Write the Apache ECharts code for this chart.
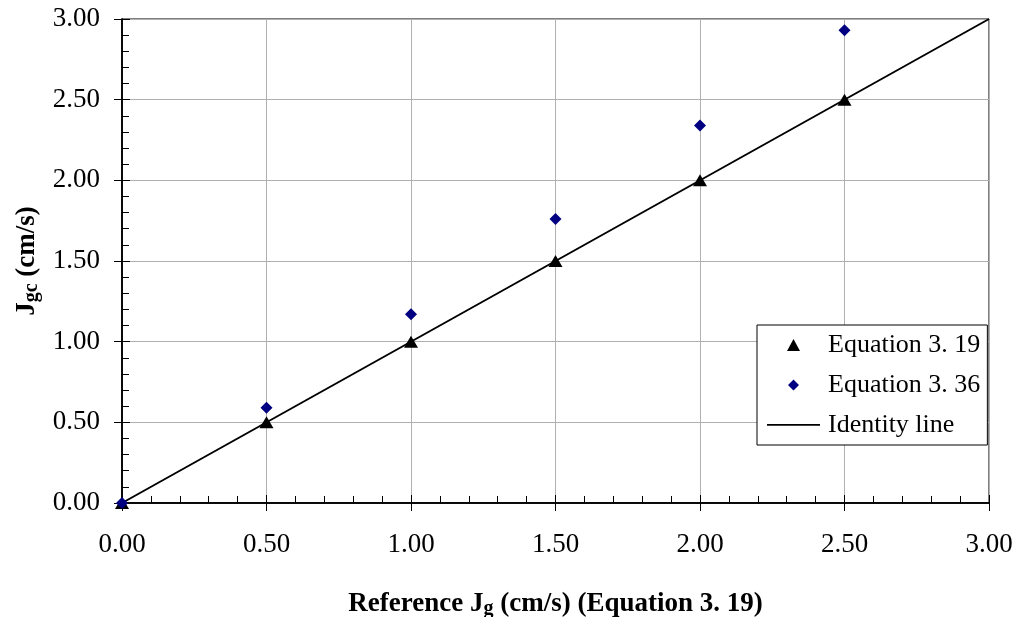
<!DOCTYPE html>
<html>
<head>
<meta charset="utf-8">
<script src="https://cdn.jsdelivr.net/npm/echarts@6/dist/echarts.min.js"></script>
<style>
html,body{margin:0;padding:0;background:#fff;}
#c{width:1021px;height:617px;}
</style>
</head>
<body>
<div id="c"></div>
<script>
const xValues = [0, 0.5, 1.0, 1.5, 2.0, 2.5];
const eq319 = [0, 0.5, 1.0, 1.5, 2.0, 2.5];
const eq336 = [0, 0.59, 1.17, 1.76, 2.34, 2.93];
const identityX = [0, 3];
const identityY = [0, 3];
const seriesNames = ['Equation 3. 19', 'Equation 3. 36', 'Identity line'];

const FONT = '"Liberation Serif","Times New Roman",serif';
const pairs = (xs, ys) => xs.map((x, i) => [x, ys[i]]);
const fmt = v => v.toFixed(2);

// legend icons drawn in a fixed 53x13 box (corner specks keep the box size)
const BOX = 'M0,0L0.01,0L0,0.01Z M53,13L52.99,13L53,12.99Z ';
const iconTri = 'path://' + BOX + 'M20,12.5L26.5,0.5L33,12.5Z';
const iconDia = 'path://' + BOX + 'M26.5,1L32,6.5L26.5,12L21,6.5Z';
const iconLine = 'path://' + BOX + 'M0,5.6L53,5.6L53,7.2L0,7.2Z';

const chart = echarts.init(document.getElementById('c'));
const axisBase = { type: 'value', min: 0, max: 3, interval: 0.5 };
const richName = {
  a: { fontFamily: FONT, fontSize: 27, fontWeight: 'bold', color: '#000', lineHeight: 30 },
  s: { fontFamily: FONT, fontSize: 20, fontWeight: 'bold', color: '#000', lineHeight: 30, verticalAlign: 'bottom', padding: [3, 0, 0, 0] }
};
chart.setOption({
  animation: false,
  backgroundColor: '#fff',
  grid: { left: 122, right: 32, top: 19, bottom: 114, show: true, borderColor: '#000', borderWidth: 1,
          containLabel: false, outerBoundsMode: 'none' },
  xAxis: [
    Object.assign({}, axisBase, {
      position: 'bottom',
      axisLine: { lineStyle: { color: '#000', width: 1.5 } },
      axisTick: { show: true, inside: false, length: 8, lineStyle: { color: '#000' } },
      axisLabel: { formatter: fmt, fontFamily: FONT, fontSize: 27, color: '#000', margin: 28 },
      splitLine: { show: true, lineStyle: { color: '#b0b0b0', width: 1 } },
      name: '{a|Reference J}{s|g}{a| (cm/s) (Equation 3. 19)}',
      nameLocation: 'middle', nameGap: 86,
      nameTextStyle: { rich: richName }
    }),
    Object.assign({}, axisBase, {
      position: 'bottom',
      axisLine: { show: true, lineStyle: { color: '#000', width: 1.5 } },
      axisTick: { show: true, inside: true, length: 8, lineStyle: { color: '#000' } },
      minorTick: { show: true, splitNumber: 5, length: 7, lineStyle: { color: '#000' } },
      axisLabel: { show: false },
      splitLine: { show: false }
    })
  ],
  yAxis: [
    Object.assign({}, axisBase, {
      position: 'left',
      axisLine: { show: true, lineStyle: { color: '#000', width: 1.5 } },
      axisTick: { show: true, inside: false, length: 8, lineStyle: { color: '#000' } },
      axisLabel: { formatter: fmt, fontFamily: FONT, fontSize: 27, color: '#000', margin: 22 },
      splitLine: { show: true, lineStyle: { color: '#b0b0b0', width: 1 } },
      name: '{a|J}{s|gc}{a| (cm/s)}',
      nameLocation: 'middle', nameGap: 80,
      nameTextStyle: { rich: richName }
    }),
    Object.assign({}, axisBase, {
      position: 'left',
      axisLine: { show: true, lineStyle: { color: '#000', width: 1.5 } },
      axisTick: { show: true, inside: true, length: 8, lineStyle: { color: '#000' } },
      minorTick: { show: true, splitNumber: 5, length: 7, lineStyle: { color: '#000' } },
      axisLabel: { show: false },
      splitLine: { show: false }
    })
  ],
  legend: {
    orient: 'vertical',
    left: 757, top: 325,
    backgroundColor: '#fff',
    borderColor: '#000', borderWidth: 1, borderRadius: 0,
    padding: [5, 7, 5, 10],
    itemWidth: 53, itemHeight: 13, itemGap: 10,
    itemStyle: { borderWidth: 0 },
    textStyle: { fontFamily: FONT, fontSize: 26, lineHeight: 30, color: '#000', padding: [0, 0, 0, 3] },
    data: [
      { name: seriesNames[0], icon: iconTri, itemStyle: { color: '#000', borderWidth: 0 } },
      { name: seriesNames[1], icon: iconDia, itemStyle: { color: '#000080', borderWidth: 0 } },
      { name: seriesNames[2], icon: iconLine, itemStyle: { color: '#000', borderWidth: 0 } }
    ]
  },
  series: [
    {
      name: seriesNames[2], type: 'line', xAxisIndex: 0, yAxisIndex: 0,
      data: pairs(identityX, identityY), symbol: 'none', showSymbol: false,
      lineStyle: { color: '#000', width: 2 }, itemStyle: { color: '#000' }, z: 2
    },
    {
      name: seriesNames[0], type: 'scatter', xAxisIndex: 0, yAxisIndex: 0,
      data: pairs(xValues, eq319), symbol: 'triangle', symbolSize: [14, 12],
      itemStyle: { color: '#000', opacity: 1 }, z: 3
    },
    {
      name: seriesNames[1], type: 'scatter', xAxisIndex: 0, yAxisIndex: 0,
      data: pairs(xValues, eq336), symbol: 'diamond', symbolSize: 12,
      itemStyle: { color: '#000080', opacity: 1 }, z: 4
    }
  ]
});
</script>
</body>
</html>
